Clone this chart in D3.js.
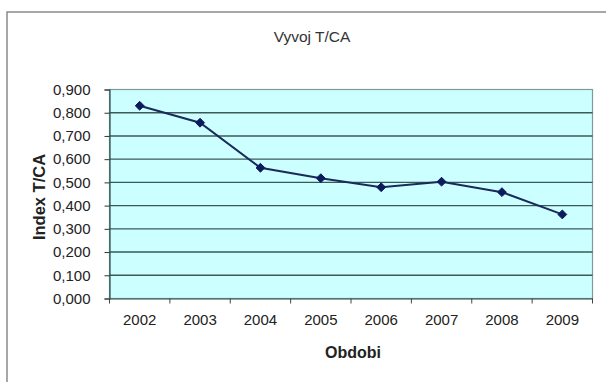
<!DOCTYPE html>
<html><head><meta charset="utf-8">
<script src="https://cdn.jsdelivr.net/npm/d3@7"></script>
<style>html,body{margin:0;padding:0;background:#fff;}svg{display:block;}</style>
</head><body>
<svg id="c" width="606" height="382"></svg>
<script>
const years = ["2002","2003","2004","2005","2006","2007","2008","2009"];
const values = [0.830, 0.757, 0.563, 0.518, 0.479, 0.503, 0.458, 0.362];
const yTicks = [0,0.1,0.2,0.3,0.4,0.5,0.6,0.7,0.8,0.9];
const title = "Vyvoj T/CA";
const xTitle = "Obdobi";
const yTitle = "Index T/CA";

const svg = d3.select("#c");
const font = "Liberation Sans, Arial, sans-serif";
const L = 109.5, R = 592.5, T = 89.5, B = 298.5;

// outer frame
svg.append("path").attr("d", `M7,382 V12 H606`).attr("fill","none")
  .attr("stroke","#8a8a8a").attr("stroke-width",1.5);

const x = d3.scaleBand().domain(years).range([L, R]).padding(0);
const y = d3.scaleLinear().domain([0, 0.9]).range([B, T]);

svg.append("rect").attr("x",L).attr("y",T).attr("width",R-L).attr("height",B-T)
  .attr("fill","#ccffff").attr("stroke","#7f9a9a").attr("stroke-width",1.2);

// gridlines
svg.append("g").selectAll("line").data(yTicks.filter(d=>d>0 && d<0.9)).join("line")
  .attr("x1",L).attr("x2",R).attr("y1",d=>y(d)).attr("y2",d=>y(d))
  .attr("stroke","#3a5a59").attr("stroke-width",1.4);

const fmt = d => d3.format(".3f")(d).replace(".", ",");

const ya = svg.append("g").attr("transform",`translate(${L},0)`)
  .call(d3.axisLeft(y).tickValues(yTicks).tickFormat(fmt).tickSize(5).tickPadding(14));
ya.select(".domain").attr("stroke","#2f4f4f").attr("stroke-width",1.2);
ya.selectAll(".tick line").attr("stroke","#333");
ya.selectAll("text").attr("font-family",font).attr("font-size",15).attr("fill","#222");

const xa = svg.append("g").attr("transform",`translate(0,${B})`)
  .call(d3.axisBottom(x).tickSize(0).tickPadding(16));
xa.select(".domain").attr("stroke","#2f4f4f").attr("stroke-width",1.2);
xa.selectAll("text").attr("font-family",font).attr("font-size",15).attr("fill","#222");
// category boundary ticks
xa.append("g").selectAll("line").data(years.concat(["end"])).join("line")
  .attr("x1",(d,i)=> i<years.length ? x(d) : x(years[years.length-1])+x.bandwidth())
  .attr("x2",(d,i)=> i<years.length ? x(d) : x(years[years.length-1])+x.bandwidth())
  .attr("y1",0).attr("y2",5).attr("stroke","#444");

// line
const cx = d => x(d) + x.bandwidth()/2;
svg.append("path").datum(values)
  .attr("d", d3.line().x((d,i)=>cx(years[i])).y(d=>y(d)))
  .attr("fill","none").attr("stroke","#1a2a5a").attr("stroke-width",2);
svg.append("g").selectAll("path").data(values).join("path")
  .attr("d", d3.symbol(d3.symbolDiamond2, 50)())
  .attr("transform",(d,i)=>`translate(${cx(years[i])},${y(d)})`)
  .attr("fill","#0d1a5c").attr("stroke","#0d1a5c").attr("stroke-width",1);

svg.append("text").attr("x",312).attr("y",42).attr("text-anchor","middle")
  .attr("font-family",font).attr("font-size",15.5).attr("fill","#333").text(title);
svg.append("text").attr("x",(L+R)/2+2).attr("y",358).attr("text-anchor","middle")
  .attr("font-family",font).attr("font-size",16).attr("font-weight","bold").attr("fill","#222").text(xTitle);
svg.append("text").attr("transform",`translate(45,197) rotate(-90)`).attr("text-anchor","middle")
  .attr("font-family",font).attr("font-size",16.5).attr("font-weight","bold").attr("fill","#222").text(yTitle);
</script>
</body></html>
